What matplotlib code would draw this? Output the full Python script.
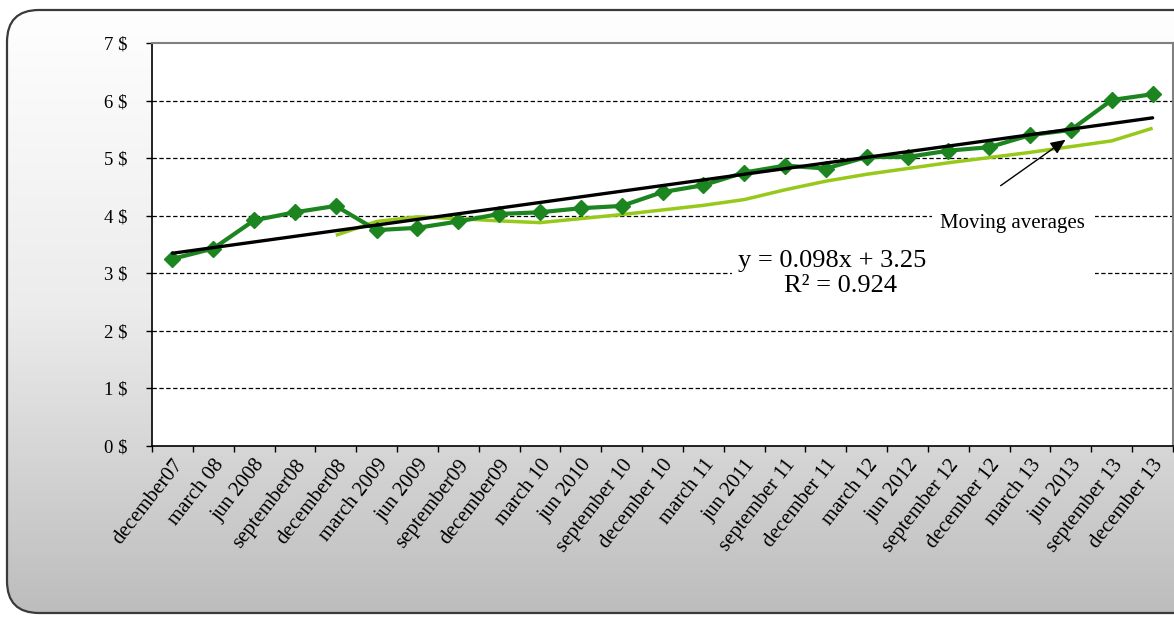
import numpy as np
import matplotlib
matplotlib.use("Agg")
import matplotlib.pyplot as plt
from matplotlib.patches import FancyBboxPatch, Rectangle
from matplotlib.colors import LinearSegmentedColormap

# quarterly price series
quarters = ["december07", "march 08", "jun 2008", "september08", "december08",
            "march 2009", "jun 2009", "september09", "december09", "march 10",
            "jun 2010", "september 10", "december 10", "march 11", "jun 2011",
            "september 11", "december 11", "march 12", "jun 2012", "september 12",
            "december 12", "march 13", "jun 2013", "september 13", "december 13"]
price = [3.25, 3.43, 3.92, 4.06, 4.17, 3.75, 3.79, 3.90, 4.03, 4.06,
         4.13, 4.17, 4.41, 4.53, 4.75, 4.87, 4.82, 5.02, 5.02, 5.13,
         5.19, 5.40, 5.49, 6.01, 6.11]
# moving average curve, starts at december08
ma_start = 4
moving_avg = [3.66, 3.90, 3.98, 3.95, 3.91, 3.88, 3.95, 4.02, 4.10, 4.18,
              4.28, 4.45, 4.60, 4.72, 4.82, 4.92, 5.01, 5.10, 5.20, 5.30, 5.52]
# linear trend y = slope*x + intercept (x = 1..n)
slope, intercept, r2 = 0.098, 3.25, 0.924
yticks = [0, 1, 2, 3, 4, 5, 6, 7]

plt.rcParams["font.family"] = ["Liberation Serif", "DejaVu Serif"]

W, H = 1174, 617
fig = plt.figure(figsize=(W / 100, H / 100), dpi=100)

# rounded gradient panel behind everything
bg = fig.add_axes([0, 0, 1, 1])
bg.set_axis_off()
bg.set_xlim(0, W)
bg.set_ylim(H, 0)
cmap = LinearSegmentedColormap.from_list("panel", ["#ffffff", "#ececec", "#bcbcbc"])
grad = np.linspace(0, 1, 256).reshape(-1, 1)
im = bg.imshow(grad, cmap=cmap, extent=[0, W, H, 0], aspect="auto", zorder=0)
panel = FancyBboxPatch((7, 10), 1220, 603, boxstyle="round,pad=0,rounding_size=32",
                       fc="none", ec="#3a3a3a", lw=1.6, zorder=1)
bg.add_patch(panel)
im.set_clip_path(panel)

ax = fig.add_axes([152 / W, (H - 446) / H, (1173 - 152) / W, (446 - 43) / H])
ax.set_facecolor("white")

x = np.arange(len(quarters))
ax.set_xlim(-0.5, len(quarters) - 0.5)
ax.set_ylim(0, 7)

# dashed gridlines
for v in yticks[1:-1]:
    ax.axhline(v, color="black", lw=0.9, ls=(0, (3.5, 2)), zorder=1)

# white label boxes that break the gridlines
ax.add_patch(Rectangle((0.568, 0.362), 0.356, 0.136, transform=ax.transAxes,
                       fc="white", ec="none", zorder=2))
ax.add_patch(Rectangle((0.764, 0.515), 0.160, 0.085, transform=ax.transAxes,
                       fc="white", ec="none", zorder=2))

xm = x[ma_start:ma_start + len(moving_avg)]
ax.plot(xm, moving_avg, color="#96c91a", lw=2.5, zorder=3, solid_capstyle="butt")
ax.plot(x, price, color="#1c8520", lw=3.0, marker="D", markersize=8.5,
        markerfacecolor="#1c8520", markeredgecolor="#1c8520", zorder=4)
trend = slope * (x + 1) + intercept
ax.plot(x, trend, color="black", lw=2.4, zorder=5, solid_capstyle="round")

ax.text(0.666, 0.459, f"y = {slope}x + {intercept}", transform=ax.transAxes,
        ha="center", va="center", fontsize=19, zorder=6)
ax.text(0.674, 0.398, f"R² = {r2}", transform=ax.transAxes,
        ha="center", va="center", fontsize=19, zorder=6)
ax.text(0.843, 0.553, "Moving averages", transform=ax.transAxes,
        ha="center", va="center", fontsize=15, zorder=6)
ax.annotate("", xy=(0.897, 0.764), xytext=(0.829, 0.642),
            xycoords="axes fraction", textcoords="axes fraction",
            arrowprops=dict(arrowstyle="-|>,head_length=0.9,head_width=0.4",
                            color="black", lw=1.0), zorder=6)

# y axis
ax.set_yticks(yticks)
ax.set_yticklabels([f"{v} $" for v in yticks])
ax.tick_params(axis="y", direction="out", length=4.5, width=1, pad=13,
               labelsize=13.5)

# x axis: ticks between categories, labels at centers
ax.set_xticks(np.arange(-0.5, len(quarters), 1))
ax.set_xticklabels([])
ax.set_xticks(x, minor=True)
ax.set_xticklabels(quarters, minor=True, rotation=52, ha="right",
                   rotation_mode="anchor")
ax.tick_params(axis="x", which="major", direction="out", length=4.5, width=1)
ax.tick_params(axis="x", which="minor", length=0, pad=7, labelsize=15)

for s in ("left", "bottom"):
    ax.spines[s].set_color("black")
    ax.spines[s].set_linewidth(1.2)
for s in ("top", "right"):
    ax.spines[s].set_color("#808080")
    ax.spines[s].set_linewidth(1.5)

fig.savefig("out.png", dpi=100)
